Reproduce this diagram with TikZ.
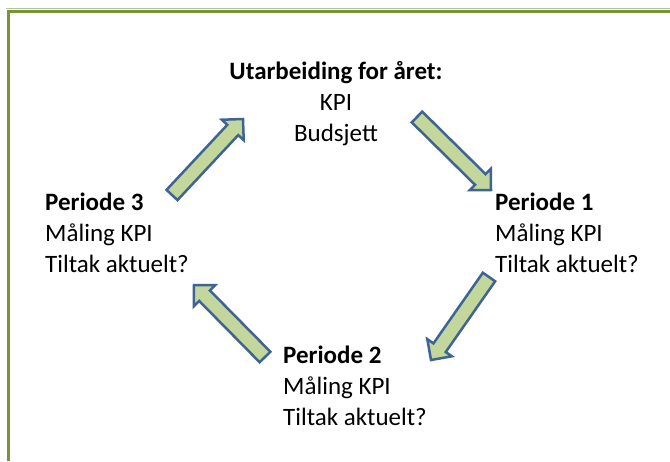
\documentclass[tikz,border=0pt]{standalone}
\usepackage{fontspec}
\setmainfont{Carlito}
\usetikzlibrary{calc}
\definecolor{framegreen}{HTML}{77933C}
\definecolor{arrowfill}{HTML}{C3D69B}
\definecolor{arrowline}{HTML}{3E6494}
\newcommand{\ShaftHalf}{7.5pt}
\newcommand{\HeadHalf}{15pt}
\newcommand{\HeadLen}{15pt}

\tikzset{
  cyclearrow/.style={draw=arrowline, fill=arrowfill, line width=2.5pt,
    to path={($(\tikztostart)!\ShaftHalf!90:(\tikztotarget)$)
      -- ($(\tikztotarget)!\HeadLen!(\tikztostart)!\ShaftHalf!90:(\tikztotarget)$)
      -- ($(\tikztotarget)!\HeadLen!(\tikztostart)!\HeadHalf!90:(\tikztotarget)$)
      -- (\tikztotarget)
      -- ($(\tikztotarget)!\HeadLen!(\tikztostart)!\HeadHalf!-90:(\tikztotarget)$)
      -- ($(\tikztotarget)!\HeadLen!(\tikztostart)!\ShaftHalf!-90:(\tikztotarget)$)
      -- ($(\tikztostart)!\ShaftHalf!-90:(\tikztotarget)$)
      -- cycle}},
  phase/.style={font=\fontsize{25}{31}\selectfont, inner sep=0pt, align=left, anchor=north west}
}

\begin{document}
\begin{tikzpicture}[x=1pt, y=-1pt]
				\useasboundingbox (0,0) rectangle (670,461);
				\fill[white] (0,0) rectangle (670,461);
				\draw[framegreen!55, line width=1pt] (6,8.5) -- (670,8.5);
				\draw[framegreen, line width=3pt] (8,461) -- (8,11) -- (670,11);
				\node[phase, align=center, anchor=north] (plan) at (336,61) {\textbf{Utarbeiding for året:}\\KPI\\Budsjett};
				\node[phase] (p1) at (495,193) {\textbf{Periode 1}\\Måling KPI\\Tiltak aktuelt?};
				\node[phase] (p2) at (283,346) {\textbf{Periode 2}\\Måling KPI\\Tiltak aktuelt?};
				\node[phase] (p3) at (45,193) {\textbf{Periode 3}\\Måling KPI\\Tiltak aktuelt?};
				\coordinate (a1s) at (417,117);
				\coordinate (a1e) at (491,190);
				\coordinate (a2s) at (489,277);
				\coordinate (a2e) at (431,360);
				\coordinate (a3s) at (265,357);
				\coordinate (a3e) at (194,285);
				\coordinate (a4s) at (172,195);
				\coordinate (a4e) at (243,119);
				\draw[cyclearrow] (a1s) to (a1e);
				\draw[cyclearrow] (a2s) to (a2e);
				\draw[cyclearrow] (a3s) to (a3e);
				\draw[cyclearrow] (a4s) to (a4e);
		\end{tikzpicture}
\end{document}
